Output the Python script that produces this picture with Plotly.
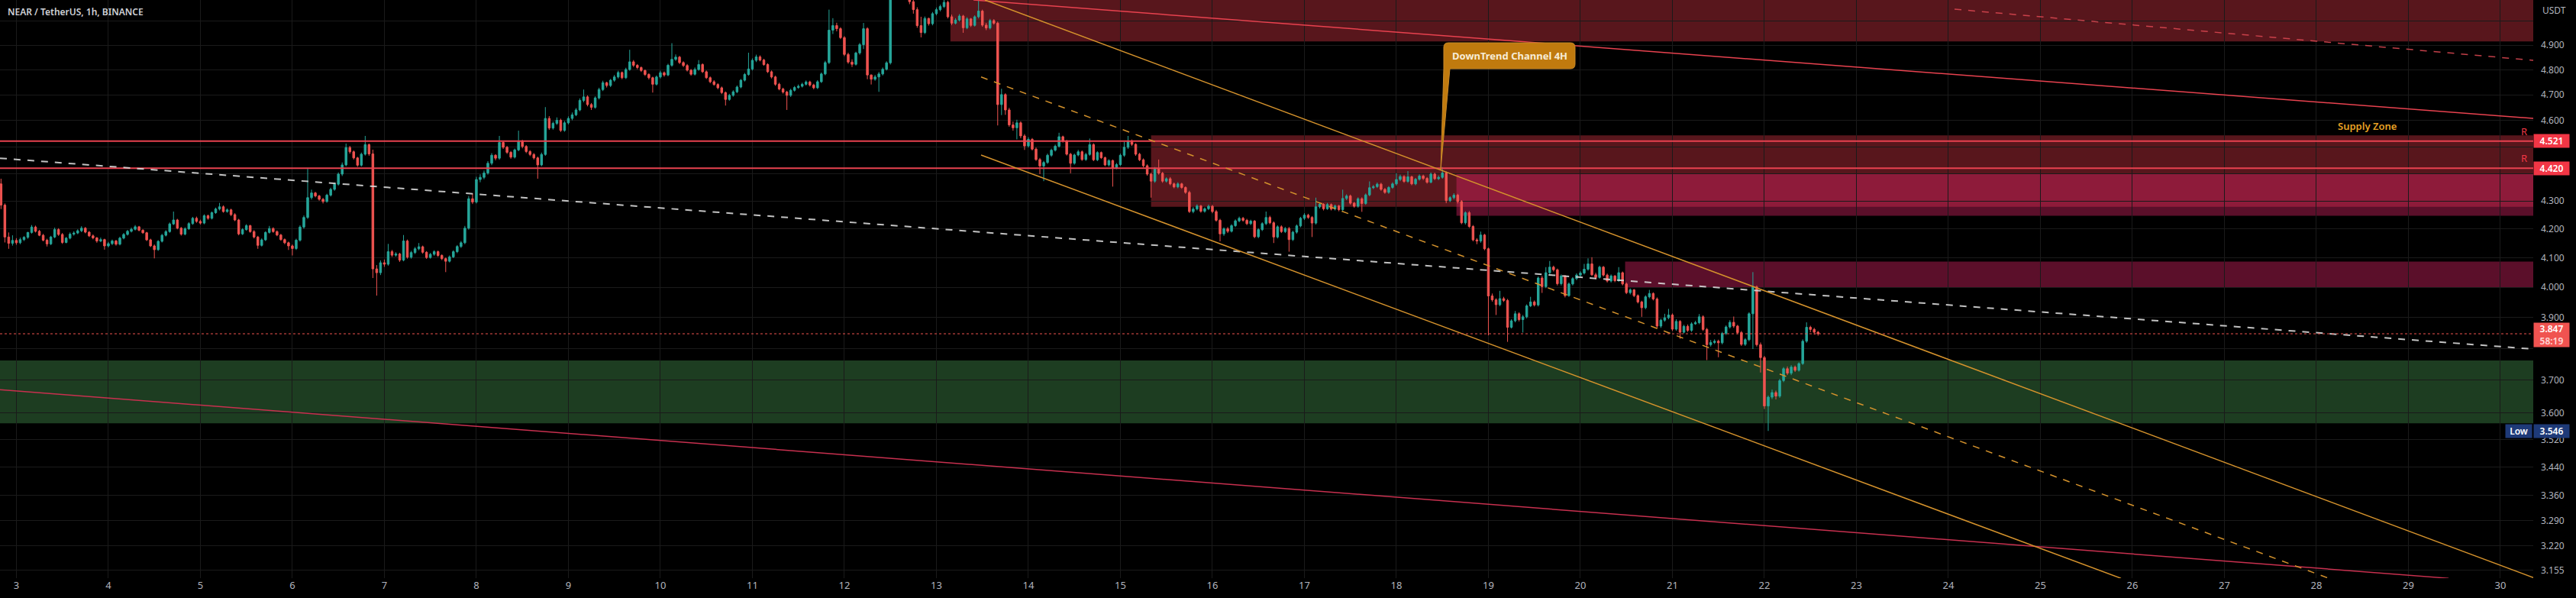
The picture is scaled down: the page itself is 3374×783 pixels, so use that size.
import numpy as np
import pandas as pd
import plotly.graph_objects as go

# ---------------- data: hourly NEAR/USDT candles ----------------
opens = [
    4.362, 4.285, 4.172, 4.150,
    4.160, 4.152, 4.163, 4.171, 4.188, 4.207, 4.192, 4.178, 4.161, 4.148, 4.172, 4.198, 4.181, 4.153, 4.168, 4.182, 4.186, 4.194, 4.203, 4.189, 4.176, 4.169, 4.158, 4.163,
    4.141, 4.149, 4.158, 4.147, 4.168, 4.181, 4.192, 4.199, 4.208, 4.196, 4.187, 4.162, 4.141, 4.128, 4.157, 4.178, 4.191, 4.218, 4.232, 4.203, 4.182, 4.201, 4.219, 4.238,
    4.227, 4.221, 4.247, 4.238, 4.258, 4.271, 4.279, 4.262, 4.268, 4.251, 4.232, 4.183, 4.198, 4.212, 4.191, 4.172, 4.143, 4.162, 4.188, 4.202, 4.191, 4.179, 4.163, 4.152,
    4.141, 4.132, 4.161, 4.207, 4.241, 4.312, 4.329, 4.318, 4.306, 4.298, 4.321, 4.342, 4.361, 4.398, 4.432, 4.497, 4.481, 4.458, 4.431, 4.472, 4.508, 4.473, 4.062, 4.049,
    4.083, 4.078, 4.121, 4.109, 4.113, 4.092, 4.158, 4.102, 4.118, 4.131, 4.138, 4.119, 4.101, 4.112, 4.121, 4.108, 4.097, 4.088, 4.103, 4.121, 4.139, 4.152, 4.203, 4.308,
    4.296, 4.378, 4.386, 4.402, 4.438, 4.468, 4.457, 4.516, 4.498, 4.479, 4.461, 4.488, 4.519, 4.501, 4.482, 4.471, 4.458, 4.432, 4.471, 4.608, 4.571, 4.589, 4.601, 4.562,
    4.591, 4.608, 4.622, 4.641, 4.678, 4.692, 4.662, 4.651, 4.688, 4.721, 4.748, 4.737, 4.758, 4.771, 4.789, 4.768, 4.801, 4.832, 4.818, 4.809, 4.797, 4.781, 4.768, 4.742,
    4.771, 4.788, 4.779, 4.818, 4.842, 4.851, 4.829, 4.817, 4.798, 4.782, 4.801, 4.821, 4.792, 4.768, 4.752, 4.741, 4.728, 4.709, 4.682, 4.698, 4.712, 4.731, 4.758, 4.781,
    4.803, 4.838, 4.852, 4.839, 4.821, 4.792, 4.771, 4.742, 4.723, 4.711, 4.698, 4.718, 4.729, 4.734, 4.742, 4.751, 4.739, 4.728, 4.752, 4.783, 4.829, 4.962, 4.981, 4.968,
    4.931, 4.862, 4.831, 4.822, 4.868, 4.902, 4.968, 4.779, 4.762, 4.771, 4.783, 4.802, 4.828, 5.121, 5.183, 5.238, 5.202, 5.141, 5.082, 5.048, 4.981, 4.952, 5.011, 4.989,
    5.031, 5.048, 5.061, 5.079, 5.018, 4.991, 5.004, 5.021, 4.972, 5.009, 4.982, 5.018, 5.042, 4.983, 4.971, 5.002, 4.991, 4.662, 4.701, 4.641, 4.583, 4.572, 4.591, 4.541,
    4.503, 4.528, 4.491, 4.452, 4.428, 4.441, 4.468, 4.487, 4.502, 4.538, 4.521, 4.472, 4.438, 4.469, 4.481, 4.452, 4.471, 4.508, 4.451, 4.478, 4.459, 4.432, 4.448, 4.421,
    4.433, 4.468, 4.498, 4.521, 4.509, 4.472, 4.451, 4.429, 4.398, 4.372, 4.418, 4.401, 4.372, 4.381, 4.362, 4.351, 4.362, 4.349, 4.331, 4.262, 4.271, 4.282, 4.263, 4.272,
    4.281, 4.262, 4.231, 4.183, 4.201, 4.192, 4.212, 4.229, 4.238, 4.231, 4.219, 4.228, 4.173, 4.198, 4.219, 4.241, 4.222, 4.172, 4.208, 4.191, 4.202, 4.163, 4.189, 4.211,
    4.238, 4.249, 4.241, 4.221, 4.279, 4.288, 4.272, 4.287, 4.271, 4.282, 4.269, 4.309, 4.318, 4.292, 4.281, 4.308, 4.291, 4.322, 4.348, 4.352, 4.361, 4.342, 4.331, 4.349,
    4.362, 4.378, 4.389, 4.371, 4.388, 4.362, 4.379, 4.391, 4.382, 4.368, 4.398, 4.381, 4.386, 4.402, 4.301, 4.312, 4.321, 4.298, 4.222, 4.258, 4.209, 4.162, 4.158, 4.179,
    4.131, 3.971, 3.958, 3.942, 3.962, 3.956, 3.868, 3.889, 3.912, 3.893, 3.902, 3.938, 3.951, 3.941, 4.031, 4.002, 4.049, 4.068, 4.059, 4.012, 4.038, 3.972, 4.011, 4.029,
    4.041, 4.048, 4.061, 4.079, 4.042, 4.033, 4.068, 4.041, 4.021, 4.038, 4.022, 4.049, 4.011, 3.982, 3.991, 3.972, 3.951, 3.932, 3.968, 3.979, 3.961, 3.872, 3.891, 3.899,
    3.908, 3.862, 3.887, 3.852, 3.871, 3.858, 3.879, 3.883, 3.902, 3.861, 3.812, 3.819, 3.823, 3.818, 3.848, 3.869, 3.884, 3.872, 3.851, 3.813, 3.828, 3.912, 4.001, 3.812,
    3.771, 3.621, 3.648, 3.662, 3.651, 3.699, 3.736, 3.722, 3.741, 3.731, 3.752, 3.823, 3.868, 3.861, 3.852,
]
highs = [
    4.381, 4.291, 4.188, 4.178,
    4.168, 4.170, 4.175, 4.190, 4.214, 4.212, 4.197, 4.183, 4.166, 4.176, 4.205, 4.203, 4.186, 4.172, 4.188, 4.192, 4.199, 4.210, 4.207, 4.193, 4.181, 4.172, 4.170, 4.166,
    4.155, 4.163, 4.162, 4.173, 4.186, 4.197, 4.205, 4.214, 4.211, 4.199, 4.190, 4.166, 4.146, 4.161, 4.183, 4.196, 4.223, 4.262, 4.236, 4.207, 4.206, 4.224, 4.243, 4.244,
    4.233, 4.252, 4.251, 4.262, 4.276, 4.293, 4.284, 4.273, 4.272, 4.256, 4.236, 4.203, 4.217, 4.215, 4.196, 4.176, 4.167, 4.192, 4.211, 4.206, 4.195, 4.183, 4.167, 4.156,
    4.146, 4.166, 4.213, 4.248, 4.421, 4.341, 4.333, 4.322, 4.311, 4.326, 4.348, 4.367, 4.404, 4.441, 4.512, 4.503, 4.486, 4.462, 4.478, 4.541, 4.512, 4.489, 4.075, 4.091,
    4.094, 4.148, 4.127, 4.119, 4.117, 4.179, 4.163, 4.124, 4.137, 4.151, 4.142, 4.123, 4.117, 4.126, 4.125, 4.112, 4.101, 4.108, 4.126, 4.144, 4.158, 4.211, 4.318, 4.327,
    4.388, 4.397, 4.411, 4.446, 4.476, 4.472, 4.541, 4.522, 4.503, 4.484, 4.493, 4.561, 4.526, 4.506, 4.487, 4.476, 4.463, 4.478, 4.652, 4.617, 4.596, 4.612, 4.607, 4.598,
    4.616, 4.631, 4.648, 4.686, 4.721, 4.698, 4.668, 4.694, 4.728, 4.756, 4.752, 4.763, 4.779, 4.796, 4.793, 4.808, 4.881, 4.839, 4.823, 4.813, 4.801, 4.786, 4.772, 4.777,
    4.796, 4.793, 4.824, 4.908, 4.862, 4.856, 4.834, 4.823, 4.803, 4.809, 4.839, 4.826, 4.797, 4.773, 4.758, 4.746, 4.733, 4.713, 4.704, 4.718, 4.737, 4.763, 4.787, 4.869,
    4.846, 4.861, 4.858, 4.844, 4.826, 4.797, 4.776, 4.748, 4.728, 4.716, 4.724, 4.735, 4.741, 4.748, 4.757, 4.756, 4.744, 4.758, 4.789, 4.836, 5.048, 5.012, 4.993, 4.974,
    4.937, 4.869, 4.842, 4.873, 4.909, 4.992, 4.974, 4.781, 4.779, 4.791, 4.809, 4.834, 5.142, 5.197, 5.262, 5.246, 5.209, 5.152, 5.089, 5.058, 5.018, 5.019, 5.014, 5.038,
    5.057, 5.069, 5.102, 5.086, 5.027, 5.012, 5.029, 5.026, 5.016, 5.013, 5.024, 5.091, 5.048, 4.992, 5.009, 5.008, 4.998, 4.724, 4.706, 4.649, 4.596, 4.603, 4.597, 4.548,
    4.536, 4.533, 4.497, 4.458, 4.447, 4.474, 4.493, 4.508, 4.553, 4.542, 4.526, 4.477, 4.474, 4.488, 4.486, 4.477, 4.531, 4.513, 4.483, 4.482, 4.463, 4.453, 4.452, 4.439,
    4.474, 4.519, 4.541, 4.527, 4.513, 4.477, 4.456, 4.434, 4.403, 4.424, 4.452, 4.406, 4.386, 4.387, 4.367, 4.368, 4.366, 4.353, 4.337, 4.278, 4.288, 4.286, 4.277, 4.287,
    4.286, 4.268, 4.236, 4.206, 4.207, 4.217, 4.234, 4.244, 4.243, 4.236, 4.233, 4.232, 4.203, 4.224, 4.262, 4.247, 4.227, 4.213, 4.213, 4.207, 4.207, 4.194, 4.216, 4.243,
    4.256, 4.254, 4.246, 4.312, 4.294, 4.292, 4.293, 4.291, 4.287, 4.286, 4.341, 4.324, 4.323, 4.297, 4.313, 4.313, 4.327, 4.371, 4.358, 4.367, 4.366, 4.347, 4.354, 4.368,
    4.401, 4.396, 4.394, 4.409, 4.392, 4.384, 4.397, 4.396, 4.387, 4.404, 4.403, 4.393, 4.424, 4.408, 4.317, 4.328, 4.326, 4.303, 4.263, 4.264, 4.214, 4.168, 4.191, 4.183,
    4.135, 3.979, 3.963, 3.988, 3.968, 3.961, 3.894, 3.921, 3.917, 3.908, 3.943, 3.968, 3.956, 4.036, 4.038, 4.068, 4.089, 4.073, 4.063, 4.043, 4.041, 4.016, 4.034, 4.047,
    4.054, 4.079, 4.098, 4.102, 4.049, 4.073, 4.072, 4.046, 4.043, 4.041, 4.068, 4.053, 4.016, 3.996, 3.994, 3.976, 3.955, 3.973, 3.991, 3.983, 3.966, 3.896, 3.912, 3.928,
    3.913, 3.894, 3.891, 3.876, 3.877, 3.884, 3.889, 3.911, 3.907, 3.866, 3.827, 3.829, 3.828, 3.853, 3.874, 3.891, 3.903, 3.876, 3.856, 3.833, 3.917, 4.051, 4.006, 3.819,
    3.776, 3.653, 3.671, 3.668, 3.704, 3.741, 3.743, 3.747, 3.746, 3.756, 3.829, 3.884, 3.873, 3.866, 3.856,
]
lows = [
    4.271, 4.153, 4.131, 4.142,
    4.145, 4.147, 4.158, 4.166, 4.184, 4.188, 4.175, 4.157, 4.139, 4.144, 4.168, 4.176, 4.148, 4.150, 4.164, 4.177, 4.182, 4.189, 4.185, 4.172, 4.164, 4.152, 4.154, 4.128,
    4.136, 4.144, 4.142, 4.143, 4.164, 4.177, 4.188, 4.195, 4.192, 4.183, 4.158, 4.137, 4.098, 4.124, 4.153, 4.174, 4.187, 4.214, 4.199, 4.177, 4.178, 4.197, 4.215, 4.222,
    4.216, 4.217, 4.233, 4.234, 4.254, 4.266, 4.258, 4.258, 4.246, 4.228, 4.178, 4.179, 4.194, 4.187, 4.167, 4.131, 4.139, 4.158, 4.184, 4.187, 4.175, 4.159, 4.147, 4.127,
    4.108, 4.127, 4.156, 4.201, 4.236, 4.305, 4.313, 4.301, 4.291, 4.294, 4.316, 4.337, 4.356, 4.391, 4.427, 4.474, 4.452, 4.425, 4.426, 4.467, 4.466, 4.031, 3.972, 4.041,
    4.069, 4.073, 4.103, 4.104, 4.086, 4.088, 4.097, 4.097, 4.113, 4.126, 4.114, 4.096, 4.097, 4.107, 4.103, 4.092, 4.051, 4.084, 4.099, 4.116, 4.134, 4.147, 4.198, 4.289,
    4.291, 4.368, 4.379, 4.396, 4.431, 4.449, 4.451, 4.492, 4.473, 4.455, 4.456, 4.483, 4.494, 4.476, 4.465, 4.452, 4.381, 4.427, 4.466, 4.564, 4.565, 4.583, 4.556, 4.557,
    4.585, 4.601, 4.617, 4.636, 4.671, 4.655, 4.641, 4.646, 4.682, 4.715, 4.729, 4.731, 4.752, 4.765, 4.762, 4.763, 4.796, 4.811, 4.802, 4.791, 4.775, 4.761, 4.709, 4.737,
    4.765, 4.772, 4.774, 4.812, 4.836, 4.823, 4.811, 4.793, 4.776, 4.777, 4.796, 4.787, 4.763, 4.746, 4.736, 4.722, 4.703, 4.658, 4.677, 4.693, 4.707, 4.726, 4.753, 4.776,
    4.797, 4.831, 4.834, 4.816, 4.787, 4.765, 4.736, 4.718, 4.705, 4.641, 4.692, 4.713, 4.724, 4.729, 4.737, 4.733, 4.722, 4.723, 4.747, 4.778, 4.823, 4.946, 4.957, 4.925,
    4.855, 4.824, 4.811, 4.817, 4.861, 4.884, 4.762, 4.741, 4.756, 4.712, 4.777, 4.797, 4.821, 5.108, 5.171, 5.194, 5.131, 5.071, 5.031, 4.972, 4.932, 4.946, 4.981, 4.982,
    5.024, 5.041, 5.055, 5.011, 4.983, 4.986, 4.998, 4.951, 4.966, 4.975, 4.977, 5.011, 4.976, 4.962, 4.965, 4.985, 4.581, 4.621, 4.622, 4.576, 4.561, 4.528, 4.532, 4.488,
    4.497, 4.486, 4.447, 4.398, 4.372, 4.436, 4.462, 4.482, 4.497, 4.516, 4.467, 4.401, 4.433, 4.464, 4.447, 4.447, 4.466, 4.446, 4.446, 4.454, 4.427, 4.426, 4.352, 4.416,
    4.428, 4.462, 4.492, 4.503, 4.466, 4.446, 4.423, 4.392, 4.312, 4.366, 4.396, 4.366, 4.367, 4.357, 4.346, 4.346, 4.344, 4.326, 4.257, 4.256, 4.266, 4.258, 4.258, 4.267,
    4.256, 4.226, 4.157, 4.176, 4.186, 4.188, 4.207, 4.224, 4.226, 4.214, 4.214, 4.168, 4.168, 4.193, 4.214, 4.217, 4.151, 4.167, 4.186, 4.186, 4.121, 4.158, 4.184, 4.206,
    4.232, 4.236, 4.172, 4.216, 4.273, 4.266, 4.268, 4.266, 4.266, 4.263, 4.264, 4.303, 4.287, 4.276, 4.276, 4.261, 4.286, 4.317, 4.343, 4.347, 4.337, 4.326, 4.326, 4.344,
    4.356, 4.372, 4.366, 4.366, 4.357, 4.357, 4.374, 4.376, 4.363, 4.364, 4.376, 4.376, 4.381, 4.292, 4.296, 4.306, 4.291, 4.217, 4.216, 4.204, 4.157, 4.147, 4.152, 4.126,
    3.842, 3.952, 3.908, 3.937, 3.951, 3.821, 3.864, 3.884, 3.887, 3.851, 3.897, 3.934, 3.936, 3.936, 3.981, 3.997, 4.043, 4.053, 4.006, 4.006, 3.966, 3.968, 4.006, 4.024,
    4.036, 4.043, 4.056, 4.038, 4.027, 4.029, 4.036, 4.016, 4.016, 4.017, 4.018, 4.006, 3.977, 3.976, 3.967, 3.946, 3.902, 3.927, 3.963, 3.956, 3.866, 3.866, 3.886, 3.894,
    3.856, 3.857, 3.831, 3.848, 3.853, 3.853, 3.876, 3.878, 3.856, 3.763, 3.806, 3.814, 3.772, 3.813, 3.843, 3.864, 3.866, 3.846, 3.808, 3.808, 3.823, 3.798, 3.806, 3.724,
    3.612, 3.546, 3.642, 3.641, 3.646, 3.694, 3.716, 3.716, 3.726, 3.727, 3.748, 3.818, 3.852, 3.844, 3.841,
]
closes = [
    4.285, 4.172, 4.150, 4.160,
    4.152, 4.163, 4.171, 4.188, 4.207, 4.192, 4.178, 4.161, 4.148, 4.172, 4.198, 4.181, 4.153, 4.168, 4.182, 4.186, 4.194, 4.203, 4.189, 4.176, 4.169, 4.158, 4.163, 4.141,
    4.149, 4.158, 4.147, 4.168, 4.181, 4.192, 4.199, 4.208, 4.196, 4.187, 4.162, 4.141, 4.128, 4.157, 4.178, 4.191, 4.218, 4.232, 4.203, 4.182, 4.201, 4.219, 4.238, 4.227,
    4.221, 4.247, 4.238, 4.258, 4.271, 4.279, 4.262, 4.268, 4.251, 4.232, 4.183, 4.198, 4.212, 4.191, 4.172, 4.143, 4.162, 4.188, 4.202, 4.191, 4.179, 4.163, 4.152, 4.141,
    4.132, 4.161, 4.207, 4.241, 4.312, 4.329, 4.318, 4.306, 4.298, 4.321, 4.342, 4.361, 4.398, 4.432, 4.497, 4.481, 4.458, 4.431, 4.472, 4.508, 4.473, 4.062, 4.049, 4.083,
    4.078, 4.121, 4.109, 4.113, 4.092, 4.158, 4.102, 4.118, 4.131, 4.138, 4.119, 4.101, 4.112, 4.121, 4.108, 4.097, 4.088, 4.103, 4.121, 4.139, 4.152, 4.203, 4.308, 4.296,
    4.378, 4.386, 4.402, 4.438, 4.468, 4.457, 4.516, 4.498, 4.479, 4.461, 4.488, 4.519, 4.501, 4.482, 4.471, 4.458, 4.432, 4.471, 4.608, 4.571, 4.589, 4.601, 4.562, 4.591,
    4.608, 4.622, 4.641, 4.678, 4.692, 4.662, 4.651, 4.688, 4.721, 4.748, 4.737, 4.758, 4.771, 4.789, 4.768, 4.801, 4.832, 4.818, 4.809, 4.797, 4.781, 4.768, 4.742, 4.771,
    4.788, 4.779, 4.818, 4.842, 4.851, 4.829, 4.817, 4.798, 4.782, 4.801, 4.821, 4.792, 4.768, 4.752, 4.741, 4.728, 4.709, 4.682, 4.698, 4.712, 4.731, 4.758, 4.781, 4.803,
    4.838, 4.852, 4.839, 4.821, 4.792, 4.771, 4.742, 4.723, 4.711, 4.698, 4.718, 4.729, 4.734, 4.742, 4.751, 4.739, 4.728, 4.752, 4.783, 4.829, 4.962, 4.981, 4.968, 4.931,
    4.862, 4.831, 4.822, 4.868, 4.902, 4.968, 4.779, 4.762, 4.771, 4.783, 4.802, 4.828, 5.121, 5.183, 5.238, 5.202, 5.141, 5.082, 5.048, 4.981, 4.952, 5.011, 4.989, 5.031,
    5.048, 5.061, 5.079, 5.018, 4.991, 5.004, 5.021, 4.972, 5.009, 4.982, 5.018, 5.042, 4.983, 4.971, 5.002, 4.991, 4.662, 4.701, 4.641, 4.583, 4.572, 4.591, 4.541, 4.503,
    4.528, 4.491, 4.452, 4.428, 4.441, 4.468, 4.487, 4.502, 4.538, 4.521, 4.472, 4.438, 4.469, 4.481, 4.452, 4.471, 4.508, 4.451, 4.478, 4.459, 4.432, 4.448, 4.421, 4.433,
    4.468, 4.498, 4.521, 4.509, 4.472, 4.451, 4.429, 4.398, 4.372, 4.418, 4.401, 4.372, 4.381, 4.362, 4.351, 4.362, 4.349, 4.331, 4.262, 4.271, 4.282, 4.263, 4.272, 4.281,
    4.262, 4.231, 4.183, 4.201, 4.192, 4.212, 4.229, 4.238, 4.231, 4.219, 4.228, 4.173, 4.198, 4.219, 4.241, 4.222, 4.172, 4.208, 4.191, 4.202, 4.163, 4.189, 4.211, 4.238,
    4.249, 4.241, 4.221, 4.279, 4.288, 4.272, 4.287, 4.271, 4.282, 4.269, 4.309, 4.318, 4.292, 4.281, 4.308, 4.291, 4.322, 4.348, 4.352, 4.361, 4.342, 4.331, 4.349, 4.362,
    4.378, 4.389, 4.371, 4.388, 4.362, 4.379, 4.391, 4.382, 4.368, 4.398, 4.381, 4.386, 4.402, 4.301, 4.312, 4.321, 4.298, 4.222, 4.258, 4.209, 4.162, 4.158, 4.179, 4.131,
    3.971, 3.958, 3.942, 3.962, 3.956, 3.868, 3.889, 3.912, 3.893, 3.902, 3.938, 3.951, 3.941, 4.031, 4.002, 4.049, 4.068, 4.059, 4.012, 4.038, 3.972, 4.011, 4.029, 4.041,
    4.048, 4.061, 4.079, 4.042, 4.033, 4.068, 4.041, 4.021, 4.038, 4.022, 4.049, 4.011, 3.982, 3.991, 3.972, 3.951, 3.932, 3.968, 3.979, 3.961, 3.872, 3.891, 3.899, 3.908,
    3.862, 3.887, 3.852, 3.871, 3.858, 3.879, 3.883, 3.902, 3.861, 3.812, 3.819, 3.823, 3.818, 3.848, 3.869, 3.884, 3.872, 3.851, 3.813, 3.828, 3.912, 4.001, 3.812, 3.771,
    3.621, 3.648, 3.662, 3.651, 3.699, 3.736, 3.722, 3.741, 3.731, 3.752, 3.823, 3.868, 3.861, 3.852, 3.847,
]

# y-axis (log) grid values and labels (labels hidden behind price tags are left blank)
y_ticks = [5.0, 4.9, 4.8, 4.7, 4.6, 4.5, 4.4, 4.3, 4.2, 4.1, 4.0, 3.9, 3.8, 3.7, 3.6, 3.52, 3.44, 3.36, 3.29, 3.22, 3.155]
y_tick_text = ["", "4.900", "4.800", "4.700", "4.600", "", "", "4.300", "4.200", "4.100",
               "4.000", "3.900", "", "3.700", "3.600", "3.520", "3.440", "3.360", "3.290", "3.220", "3.155"]

# horizontal levels
resist_levels = [4.521, 4.420]
last_price = 3.847
low_price = 3.546

# zones: (start time, low price, high price)
zone_top = ("2024-04-13 03:40", 4.915, 5.6)
zone_supply = ("2024-04-15 08:00", 4.279, 4.543)
zone_b = ("2024-04-18 15:40", 4.247, 4.400)
zone_c = ("2024-04-20 11:40", 4.000, 4.087)
zone_demand = ("2024-04-01 00:00", 3.569, 3.762)

# trend lines: (t0, p0, t1, p1)
line_white = ("2024-04-02 19:44", 4.457, "2024-04-30 08:34", 3.798)
line_red_top = ("2024-04-13 09:40", 5.089, "2024-04-30 08:34", 4.608)
line_red_dash = ("2024-04-24 01:36", 5.050, "2024-04-30 08:34", 4.838)
line_red_long = ("2024-04-02 19:44", 3.671, "2024-04-29 10:29", 3.134)
ch_upper = ("2024-04-13 12:39", 5.089, "2024-04-30 08:34", 3.136)
ch_mid = ("2024-04-13 11:40", 4.771, "2024-04-28 03:13", 3.134)
ch_lower = ("2024-04-13 11:40", 4.469, "2024-04-25 21:01", 3.134)

# ---------------- figure ----------------
n = min(len(opens), len(highs), len(lows), len(closes))
times = pd.date_range("2024-04-02 20:00", periods=n, freq="h")

W, H = 3374, 783
MR, MB = 56, 26
PW, PH = W - MR, H - MB
Y_RANGE = [np.log10(3.1344), np.log10(5.089)]
X_RANGE = ["2024-04-02 19:44", "2024-04-30 08:34"]

BG = "#000000"
GRID = "#1a1a1a"
TXT = "#b2b5be"
UP, DN = "#26a69a", "#ef5350"
RED = "#e8424f"
ORANGE = "#d4922c"
FONT = "Noto Sans"

fig = go.Figure()
fig.add_trace(go.Candlestick(
    x=times, open=opens[:n], high=highs[:n], low=lows[:n], close=closes[:n],
    increasing=dict(line=dict(color=UP, width=1), fillcolor=UP),
    decreasing=dict(line=dict(color=DN, width=1), fillcolor=DN),
    whiskerwidth=0, showlegend=False, hoverinfo="skip"))

def zone(z, color):
    fig.add_shape(type="rect", xref="x", yref="y", x0=z[0], x1="2024-05-10",
                  y0=z[1], y1=z[2], fillcolor=color, line_width=0, layer="below")

zone(zone_top, "rgb(88,22,28)")
zone(zone_supply, "rgb(88,22,28)")
zone(zone_b, "rgba(217,36,100,0.42)")
zone(zone_c, "rgba(217,36,100,0.42)")
zone(zone_demand, "rgb(29,61,33)")

def tline(l, color, width=1.5, dash="solid"):
    fig.add_shape(type="line", xref="x", yref="y", x0=l[0], y0=l[1], x1=l[2], y1=l[3],
                  line=dict(color=color, width=width, dash=dash), layer="above")

for lv in resist_levels:
    fig.add_shape(type="line", xref="paper", yref="y", x0=0, x1=1, y0=lv, y1=lv,
                  line=dict(color=RED, width=2), layer="above")
tline(line_white, "rgba(215,215,215,0.9)", 2, "dash")
tline(line_red_top, RED, 1.5)
tline(line_red_dash, "rgba(215,70,80,0.9)", 1.5, "dash")
tline(line_red_long, "#c8304f", 1.5)
tline(ch_upper, ORANGE, 1.5)
tline(ch_lower, ORANGE, 1.5)
tline(ch_mid, ORANGE, 1.5, "dash")
fig.add_shape(type="line", xref="paper", yref="y", x0=0, x1=1, y0=last_price, y1=last_price,
              line=dict(color=DN, width=1, dash="dot"), layer="above")

# callout body with pointer (paper coords from pixel positions)
def pp(xp, yp):
    return f"{xp / PW:.5f},{1 - yp / PH:.5f}"
path = ("M " + pp(1897, 56) + " L " + pp(2057, 56) + " Q " + pp(2063, 56) + " " + pp(2063, 62) +
        " L " + pp(2063, 84) + " Q " + pp(2063, 90) + " " + pp(2057, 90) + " L " + pp(1899, 90) +
        " L " + pp(1887, 222) + " L " + pp(1891, 90) + " L " + pp(1891, 62) +
        " Q " + pp(1891, 56) + " " + pp(1897, 56) + " Z")
fig.add_shape(type="path", xref="paper", yref="paper", path=path,
              fillcolor="#c07a0e", line=dict(color="#c98a2a", width=1), layer="above")

ann = []
def A(text, xp, yp, size=12, color=TXT, weight="normal", xanchor="center", **kw):
    ann.append(dict(text=text, xref="paper", yref="paper", x=xp / PW, y=1 - yp / PH,
                    xanchor=xanchor, yanchor="middle", showarrow=False,
                    font=dict(family=FONT, size=size, color=color, weight=weight), **kw))

A("NEAR / TetherUS, 1h, BINANCE", 8, 16, size=12, color="#cfd1d6", weight=600, xanchor="left")
A("DownTrend Channel 4H", 1977, 73, size=13, color="#f7ecd6", weight="bold")
A("Supply Zone", 3100, 165, size=13, color="#e8a224", weight=600)
A("R", 3306, 172, size=13, color="#f23645")
A("R", 3306, 207, size=13, color="#f23645")
A("USDT", 3328, 13, size=12, color=TXT, xanchor="left")

def price_box(text, price, color, h=17, w=46):
    ann.append(dict(text=text, xref="paper", yref="y", x=1, y=np.log10(price),
                    xanchor="left", yanchor="middle", showarrow=False, align="center",
                    bgcolor=color, width=w, height=h, borderpad=0,
                    font=dict(family=FONT, size=12, color="#ffffff", weight=600)))

for lv in resist_levels:
    price_box(f"{lv:.3f}", lv, "#f23645")
price_box(f"{last_price:.3f}<br><span style='color:#ffd9d9'>58:19</span>", 3.8425, "#f05350", h=31)
price_box(f"{low_price:.3f}", low_price, "#1e3a78")
ann.append(dict(text="Low", xref="paper", yref="y", x=1, xshift=-1, y=np.log10(low_price),
                xanchor="right", yanchor="middle", showarrow=False, bgcolor="#1e3a78",
                width=34, height=17, borderpad=0,
                font=dict(family=FONT, size=12, color="#ffffff", weight=600)))

fig.update_layout(
    width=W, height=H, margin=dict(l=0, r=MR, t=0, b=MB),
    paper_bgcolor=BG, plot_bgcolor=BG, showlegend=False,
    annotations=ann,
    xaxis=dict(type="date", range=X_RANGE, rangeslider=dict(visible=False),
               tick0="2024-04-03", dtick=86400000, tickformat="%-d",
               showgrid=True, gridcolor=GRID, gridwidth=1, zeroline=False,
               ticks="", showline=False,
               tickfont=dict(family=FONT, size=13, color=TXT)),
    yaxis=dict(type="log", side="right", range=Y_RANGE,
               tickvals=y_ticks, ticktext=y_tick_text,
               showgrid=True, gridcolor=GRID, gridwidth=1, zeroline=False,
               ticks="", showline=False, ticklabelstandoff=9,
               tickfont=dict(family=FONT, size=12, color=TXT)),
)

fig.write_html("out.html")
